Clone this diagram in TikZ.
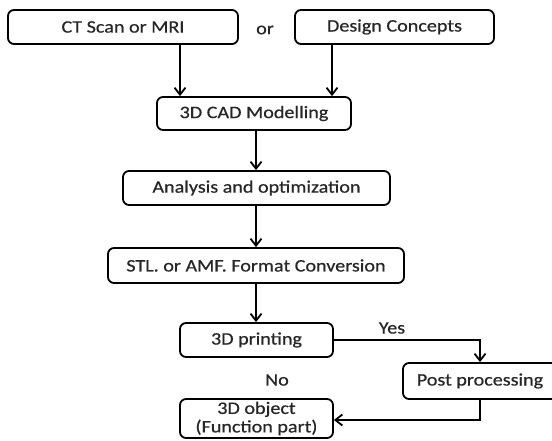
\documentclass[tikz,border=0pt]{standalone}
\usepackage{fontspec}
\setmainfont{Carlito}[FakeStretch=1.15,FakeBold=0.6]
\usetikzlibrary{arrows.meta}

\begin{document}
\begin{tikzpicture}[x=1pt,y=-1pt,
  box/.style={draw,line width=1.8pt,rounded corners=6pt,inner sep=0pt,
    align=center,text=black!85,font=\fontsize{17.5}{18.5}\selectfont},
  lbl/.style={text=black!85,font=\fontsize{17.5}{18.5}\selectfont},
  arr/.style={line width=1.8pt,-{Straight Barb[length=7pt,width=11pt,line width=1.8pt]}}]
\useasboundingbox (0,0) rectangle (552,441);
\node [box,minimum width=230pt,minimum height=34pt] (ct) at (123,27) {CT Scan or MRI};
\node [lbl] (or) at (265,30) {or};
\node [box,minimum width=199pt,minimum height=34pt] (design) at (394.5,27) {Design Concepts};
\node [box,minimum width=194pt,minimum height=33pt] (cad) at (254,113.5) {3D CAD Modelling};
\node [box,minimum width=267pt,minimum height=34pt] (analysis) at (256.5,188) {Analysis and optimization};
\node [box,minimum width=296pt,minimum height=35pt] (stl) at (256,265.5) {STL. or AMF. Format Conversion};
\node [box,minimum width=153pt,minimum height=34pt] (print) at (256.5,340) {3D printing};
\node [lbl] (yes) at (392,328) {Yes};
\node [box,minimum width=154pt,minimum height=36pt] (post) at (480,381) {Post processing};
\node [lbl] (no) at (277,380) {No};
\node [box,minimum width=153pt,minimum height=39pt] (object) at (256.5,418.5) {3D object\\(Function part)};
\draw [arr] ([xshift=57pt]ct.south) -- ([xshift=57pt]ct.south |- cad.north);
\draw [arr] ([xshift=-62.5pt]design.south) -- ([xshift=-62.5pt]design.south |- cad.north);
\draw [arr] ([xshift=2pt]cad.south) -- ([xshift=2pt]cad.south |- analysis.north);
\draw [arr] ([xshift=-0.5pt]analysis.south) -- ([xshift=-0.5pt]analysis.south |- stl.north);
\draw [arr] (stl.south) -- (stl.south |- print.north);
\draw [arr] (print.east) -| (post.north);
\draw [arr] (post.south) |- ([yshift=-1.5pt]object.east);
\end{tikzpicture}
\end{document}
